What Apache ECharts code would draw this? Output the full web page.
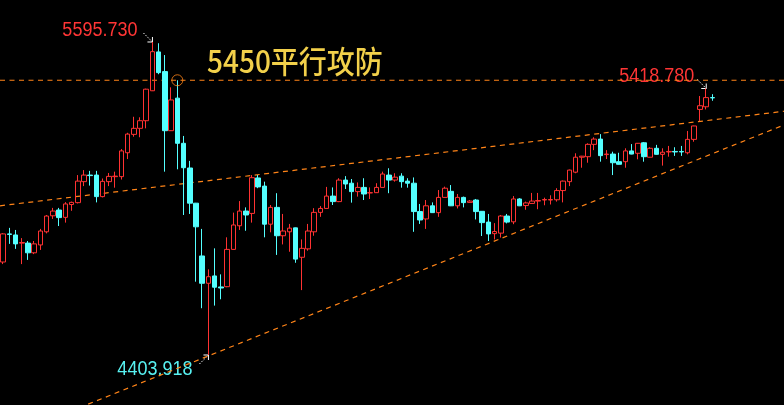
<!DOCTYPE html>
<html>
<head>
<meta charset="utf-8">
<script src="https://cdn.jsdelivr.net/npm/echarts@6/dist/echarts.min.js"></script>
<style>
html,body{margin:0;padding:0;background:#000;}
#main{width:784px;height:405px;}
</style>
</head>
<body>
<div id="main"></div>
<script>
// ---- data ----
const opens = [4758,4865,4861,4830,4830,4793,4823,4873,4934,4956,4928,4977,4984,5064,5089,5089,5007,5064,5083,5083,
5174,5244,5267,5296,5410,5558,5483,5258,5382,5210,5116,4982,4781,4677,4705,4663,4664,4806,4896,4952,
4943,5078,5047,4902,4966,4858,4873,4888,4776,4808,4873,4947,4962,5009,4988,5070,5058,5026,5042,5021,
5022,5042,5089,5070,5085,5066,5058,4950,4922,4972,4946,5004,5027,4972,5004,4985,4994,4951,4910,4866,
4868,4933,4911,4998,4973,4981,4990,4994,4994,4995,5030,5064,5100,5157,5159,5206,5226,5167,5169,5140,
5140,5181,5172,5212,5157,5191,5168,5177,5179,5179,5174,5225,5339,5349,5384];
const closes = [4865,4863,4827,4832,4793,4827,4876,4933,4952,4927,4979,4985,5066,5089,5087,5007,5065,5084,5085,5181,
5245,5267,5296,5416,5559,5479,5258,5375,5210,5117,4982,4892,4677,4702,4662,4659,4806,4899,4952,4937,
5079,5044,4902,4966,4858,4876,4887,4769,4810,4876,4947,4962,5009,4988,5070,5055,5026,5042,5017,5022,
5042,5093,5070,5081,5064,5058,4950,4918,4972,4946,5004,5039,4972,5004,4984,4990,4950,4908,4865,4874,
4933,4910,4998,4972,4983,4990,4992,4996,4996,5030,5066,5108,5157,5161,5206,5226,5163,5169,5136,5130,
5181,5169,5210,5159,5191,5168,5176,5179,5177,5177,5225,5276,5353,5384,5383];
const lows = [4750,4827,4808,4750,4766,4788,4804,4867,4922,4895,4908,4953,4981,5047,5049,4985,5004,5047,5041,5072,
5150,5235,5233,5267,5409,5473,5102,5257,5111,4937,4941,4683,4582,4403.918,4592,4616,4662,4805,4880,4877,
4908,5039,4852,4871,4785,4825,4797,4755,4651,4801,4858,4930,4961,4975,4986,5036,4984,5007,4994,4998,
5021,5042,5020,5064,5041,5041,4873,4903,4884,4945,4930,5003,4971,4962,4966,4984,4920,4857,4838,4844,
4851,4905,4902,4971,4957,4980,4959,4974,4977,4988,4985,5047,5096,5117,5136,5184,5140,5150,5089,5129,
5117,5168,5149,5140,5156,5167,5125,5159,5162,5162,5168,5216,5295,5339,5372];
const highs = [4868,4888,4880,4849,4838,4838,4884,4937,4964,4964,4986,4988,5089,5108,5105,5105,5076,5097,5102,5188,
5250,5311,5309,5418,5595.73,5591,5546,5423,5450,5238,5143,4983,4884,4730,4810,4711,4852,4946,4990,4966,
5089,5089,5064,4975,5020,4941,4903,4889,4844,4903,4963,4971,5044,5042,5077,5085,5074,5061,5077,5042,
5058,5102,5115,5096,5096,5077,5080,4979,4994,4985,5032,5045,5051,5017,5007,4994,4998,4952,4941,4906,
4937,4941,5009,5001,4988,5021,5021,5003,5012,5039,5068,5110,5172,5162,5210,5233,5245,5184,5178,5174,
5191,5207,5211,5215,5195,5204,5191,5200,5195,5200,5257,5277,5390,5418.78,5397];

const slotCount = 126;                       // 115 candles + empty room on the right
const categories = Array.from({length: slotCount}, (_, i) => String(i + 1));

const level = 5450;                          // horizontal resistance
const upperTrend = [[-0.5, 4972], [125.5, 5332]];
const lowerTrend = [[-0.5, 4082], [125.5, 5280]];
const circlePoint = [[28, 5450]];

const titleText = '5450平行攻防';
const highIdx = 24, lowIdx = 33, lastHighIdx = 113;

// ---- chart ----
const RED = '#ff3232', CYAN = '#54ffff', ORANGE = '#ff8418';
const kData = opens.map((o, i) => [o, closes[i], lows[i], highs[i]]);

const chart = echarts.init(document.getElementById('main'));
const option = {
  backgroundColor: '#000',
  animation: false,
  grid: {left: -1.4, right: -3.4, top: 0, bottom: 0},
  xAxis: [
    {type: 'category', data: categories, boundaryGap: true, show: false},
    {type: 'value', min: -0.5, max: slotCount - 0.5, show: false}
  ],
  yAxis: {type: 'value', min: 4213.5, max: 5755.65, show: false, splitLine: {show: false}},
  series: [
    {type: 'line', xAxisIndex: 1, data: [[-0.5, level], [slotCount - 0.5, level]], symbol: 'none', z: 1,
     lineStyle: {color: ORANGE, width: 1.2, type: [5, 4.5]}},
    {type: 'line', xAxisIndex: 1, data: upperTrend, symbol: 'none', z: 1,
     lineStyle: {color: ORANGE, width: 1.2, type: [5, 4.5]}},
    {type: 'line', xAxisIndex: 1, data: lowerTrend, symbol: 'none', z: 1,
     lineStyle: {color: ORANGE, width: 1.2, type: [5, 4.5]}},
    {type: 'candlestick', data: kData, barWidth: 5, z: 3,
     itemStyle: {color: 'transparent', color0: CYAN, borderColor: RED, borderColor0: CYAN, borderWidth: 1}},
    {type: 'scatter', xAxisIndex: 1, data: circlePoint, symbol: 'circle', symbolSize: 11, z: 4,
     itemStyle: {color: 'transparent', borderColor: ORANGE, borderWidth: 1}}
  ]
};
chart.setOption(option);

function toPx(idx, price) {
  return chart.convertToPixel({xAxisIndex: 1, yAxisIndex: 0}, [idx, price]);
}
function arrow(tip, dx, dy) {
  const tail = [tip[0] - dx * 9, tip[1] - dy * 9];
  return [
    {type: 'line', shape: {x1: tail[0], y1: tail[1], x2: tip[0], y2: tip[1]},
     style: {stroke: '#fff', lineWidth: 1, lineDash: [1.5, 1.5]}},
    {type: 'polyline', shape: {points: [[tip[0] - dx * 5, tip[1]], tip, [tip[0], tip[1] - dy * 5]]},
     style: {stroke: '#fff', lineWidth: 1, fill: null}}
  ];
}
function label(text, x, y, color) {
  return {type: 'text', x: x, y: y, scaleY: 1.12,
    style: {text: text, fill: color, font: '18px "Liberation Sans", Arial, sans-serif',
            align: 'right', verticalAlign: 'middle'}};
}
const hi = toPx(highIdx, highs[highIdx]);
const lo = toPx(lowIdx, lows[lowIdx]);
const lh = toPx(lastHighIdx, highs[lastHighIdx]);
const elements = [].concat(
  arrow(hi, 1, 1), [label(highs[highIdx].toFixed(3), hi[0] - 15, hi[1] - 12, '#ff3535')],
  arrow(lo, 1, -1), [label(lows[lowIdx].toFixed(3), lo[0] - 16, lo[1] + 14, '#58f2f2')],
  arrow(lh, 1, 1), [label(highs[lastHighIdx].toFixed(3), lh[0] - 12, lh[1] - 12, '#ff3535')],
  [{type: 'text', x: 207, y: 61, scaleY: 1.1,
    style: {text: titleText, fill: '#f2d04a', font: '500 28px "Noto Sans CJK SC", sans-serif',
            align: 'left', verticalAlign: 'middle'}}]
);
chart.setOption({graphic: {elements: elements}});
</script>
</body>
</html>
